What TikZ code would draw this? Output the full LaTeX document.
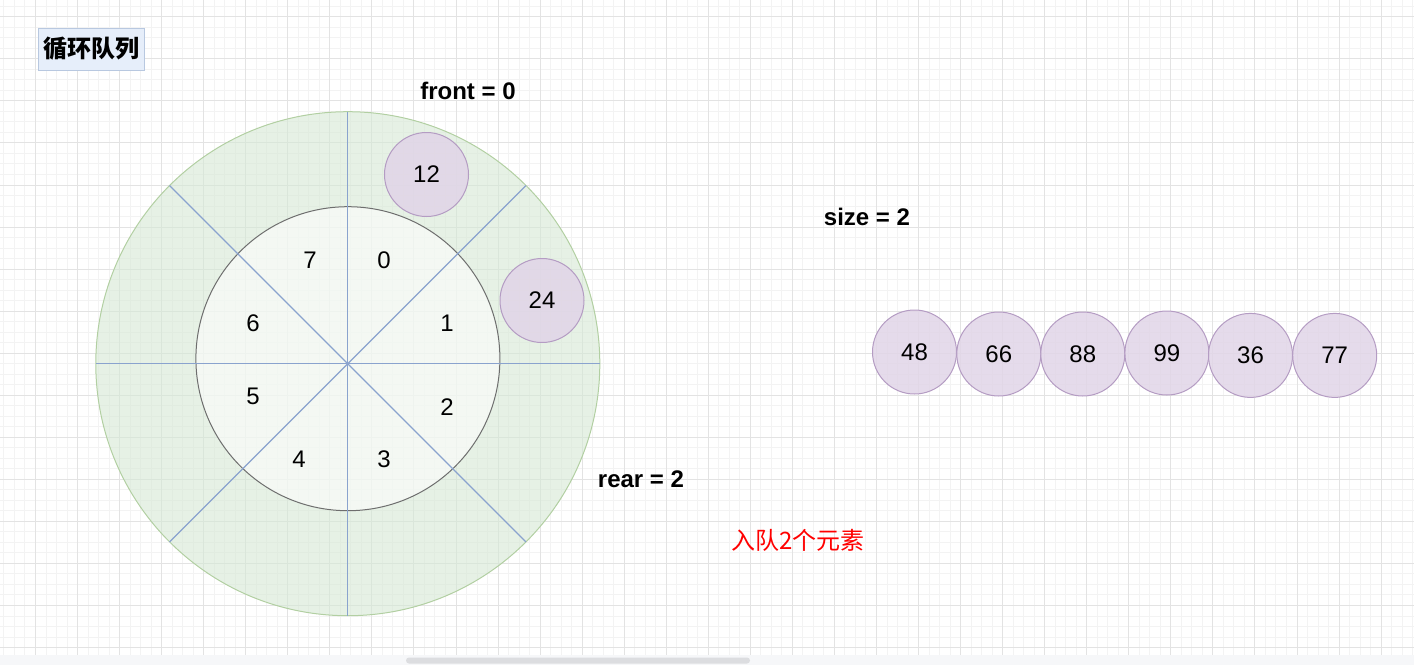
\documentclass[tikz,border=0pt]{standalone}
\usepackage{fontspec}
\setmainfont{Liberation Sans}
\newfontfamily\cjk{Noto Sans CJK SC}

\definecolor{gridlo}{HTML}{F3F3F3}
\definecolor{gridhi}{HTML}{E3E3E3}
\definecolor{ringfill}{HTML}{D5E8D4}
\definecolor{ringline}{HTML}{B2CFA2}
\definecolor{spokeline}{HTML}{8AA3CE}
\definecolor{elemfill}{HTML}{E1D5E7}
\definecolor{elemline}{HTML}{B49CC3}
\definecolor{titlefill}{HTML}{E6EEFA}
\definecolor{titleline}{HTML}{B8C8E0}

\tikzset{
  gridminor/.style={draw=gridlo,line width=0.5pt},
  gridmajor/.style={draw=gridhi,line width=0.5pt},
  spoke/.style={draw=spokeline,line width=0.6pt},
  num/.style={font=\fontsize{12}{14}\selectfont},
  boldlabel/.style={font=\fontsize{12}{14}\selectfont\bfseries},
  elem/.style={circle,draw=elemline,fill=elemfill,fill opacity=0.85,text opacity=1,
    line width=0.5pt,minimum size=42pt,inner sep=0pt,num}
}

\begin{document}
\begin{tikzpicture}[x=0.5pt,y=-0.5pt]
  \useasboundingbox (0,0) rectangle (1414,665);
  % background grid
  \begin{scope}
    \clip (0,0) rectangle (1414,655);
    \foreach \i in {-4,...,134} \draw[gridminor] ({35.5+\i*10.5125},0) -- ++(0,655);
    \foreach \j in {-2,...,62} \draw[gridminor] (0,{16.8+\j*10.5125}) -- ++(1414,0);
    \foreach \i in {-1,...,33} \draw[gridmajor] ({35.5+\i*42.05},0) -- ++(0,655);
    \foreach \j in {-1,...,15} \draw[gridmajor] (0,{16.8+\j*42.05}) -- ++(1414,0);
  \end{scope}
  % scroll bar
  \fill[fill={rgb,255:red,246;green,247;blue,249}] (0,655) rectangle (1414,665);
  \fill[fill={rgb,255:red,220;green,221;blue,224},rounded corners=1.5pt] (406,657.5) rectangle (750,663.5);

  % title
  \node[draw=titleline,fill=titlefill,line width=0.5pt,minimum width=53pt,minimum height=21pt,
    inner sep=0pt,font=\cjk\fontsize{12}{14}\selectfont\bfseries] (title) at (91,49) {循环队列};

  % the ring
  \node[circle,draw=ringline,fill=ringfill,fill opacity=0.6,line width=0.5pt,
    minimum size=252pt,inner sep=0pt,outer sep=0pt] (ring) at (347.8,363.7) {};
  \node[circle,draw={rgb,255:red,110;green,110;blue,110},fill=white,fill opacity=0.55,line width=0.5pt,
    minimum size=152pt,inner sep=0pt,outer sep=0pt] (slots) at (347.9,358.7) {};
  \foreach \a/\b in {90/270,0/180,45/225,135/315}
    \draw[spoke] (ring.\a) -- (ring.\b);

  % slot numbers
  \foreach \k/\x/\y in {0/384/260,1/447/323,2/447/407,3/384/459,4/299/459,5/253/396,6/253/323,7/310/260}
    \node[num] (s\k) at (\x,\y) {\k};

  % elements in the queue
  \node[elem] (q12) at (426.5,174.5) {12};
  \node[elem] (q24) at (542,300.5) {24};

  % labels
  \node[boldlabel] (front) at (468,91) {front = 0};
  \node[boldlabel] (rear) at (641,479) {rear = 2};
  \node[boldlabel] (size) at (867,217) {size = 2};
  \node[text=red,font=\cjk\fontsize{12}{14}\selectfont] (note) at (798,540) {入队2个元素};

  % waiting elements
  \foreach \v/\x/\y in {48/914.5/352,66/998.8/354,88/1082.8/354,99/1166.9/353,36/1250.5/355.4,77/1334.7/355.4}
    \node[elem] (e\v) at (\x,\y) {\v};
\end{tikzpicture}
\end{document}
